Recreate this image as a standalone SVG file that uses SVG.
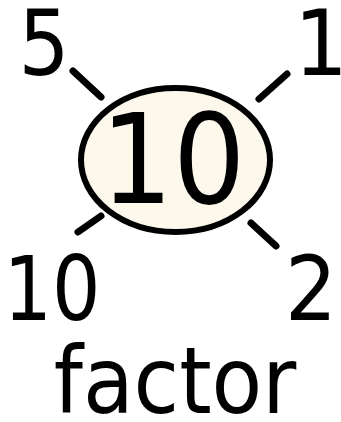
<svg xmlns="http://www.w3.org/2000/svg" width="341" height="422" viewBox="0 0 341 422">
<style>
text{font-family:"DejaVu Sans",sans-serif;fill:#000;text-anchor:middle}
.f{font-family:"DejaVu Sans Condensed","DejaVu Sans",sans-serif;font-stretch:condensed}
.c{stroke:#000;stroke-width:7;stroke-linecap:round;fill:none}
</style>
<rect width="341" height="422" fill="#fff"/>
<g id="connectors">
<line class="c" x1="73" y1="71" x2="101" y2="97"/>
<line class="c" x1="287" y1="74" x2="259" y2="99"/>
<line class="c" x1="78" y1="232" x2="101" y2="216"/>
<line class="c" x1="251" y1="223" x2="276" y2="246"/>
</g>
<g id="center">
<ellipse cx="175.5" cy="160" rx="94.5" ry="72" fill="#FDF8EC" stroke="#000" stroke-width="6"/>
<text x="173" y="203" font-size="125" textLength="145" lengthAdjust="spacingAndGlyphs">10</text>
</g>
<g id="n5"><text x="44" y="75" font-size="90" textLength="51" lengthAdjust="spacingAndGlyphs">5</text></g>
<g id="n1"><text x="321" y="75" font-size="90" textLength="54" lengthAdjust="spacingAndGlyphs">1</text></g>
<g id="n10"><text x="52" y="320" font-size="89" textLength="97" lengthAdjust="spacingAndGlyphs">10</text></g>
<g id="n2"><text x="311" y="320" font-size="89" textLength="52" lengthAdjust="spacingAndGlyphs">2</text></g>
<g id="label"><text class="f" x="175" y="413" font-size="92">factor</text></g>
</svg>
